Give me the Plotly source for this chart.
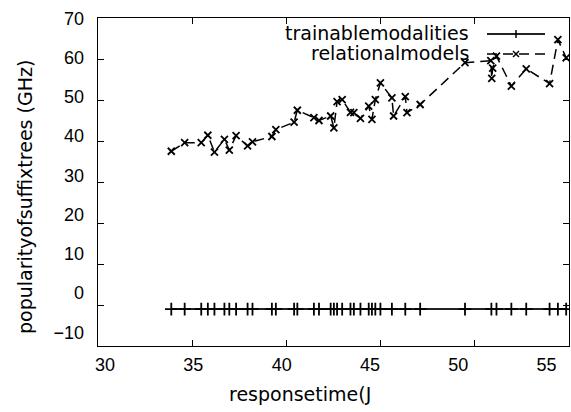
import plotly.graph_objects as go

# ---- data ----
train_x = [33.89, 34.60, 35.48, 35.83, 36.18, 36.71, 36.97, 37.33, 37.94, 38.20,
           39.23, 39.44, 40.41, 40.58, 41.46, 41.73, 42.35, 42.52, 42.69, 42.96,
           43.40, 43.58, 43.93, 44.37, 44.54, 44.72, 44.99, 45.60, 46.31, 47.10,
           49.48, 50.88, 51.15, 51.94, 52.73, 53.97, 54.41, 54.85]
train_y = [-1.0] * len(train_x)

rel_x = [33.89, 34.60, 35.48, 35.83, 36.18, 36.71, 36.97, 37.33, 37.94, 38.20,
         39.23, 39.44, 40.41, 40.58, 41.46, 41.73, 42.35, 42.52, 42.69, 42.96,
         43.40, 43.58, 43.93, 44.37, 44.54, 44.72, 44.99, 45.60, 45.69, 46.31,
         46.40, 47.10, 49.48, 50.85, 50.90, 50.95, 51.15, 51.94, 52.73, 53.97,
         54.41, 54.85]
rel_y = [37.5, 39.6, 39.6, 41.4, 37.3, 40.4, 37.8, 41.3, 38.8, 39.8,
         41.1, 42.8, 44.6, 47.5, 45.7, 45.0, 46.1, 43.2, 49.6, 50.1,
         47.0, 46.9, 45.5, 48.5, 45.3, 50.1, 54.2, 50.5, 46.1, 50.8,
         46.9, 48.9, 59.1, 59.6, 55.3, 57.8, 60.7, 53.4, 57.6, 54.0,
         64.7, 60.3]

series_names = ["trainablemodalities", "relationalmodels"]
x_title = "responsetime(J"
y_title = "popularityofsuffixtrees (GHz)"
x_ticks = [30, 35, 40, 45, 50, 55]
y_ticks = [-10, 0, 10, 20, 30, 40, 50, 60, 70]

# ---- layout geometry (pixels) ----
W, H = 571, 412
L, R, T, B = 98, 569, 18, 346
PW, PH = R - L, B - T


def px(x):
    return (x - L) / PW


def py(y):
    return (B - y) / PH


TEXT_FONT = dict(family="DejaVu Sans", size=19, color="black")
TICK_FONT = dict(family="Liberation Sans, Arial", size=18, color="black")

fig = go.Figure()
fig.add_trace(go.Scatter(
    x=train_x, y=train_y, mode="lines+markers", name=series_names[0],
    line=dict(color="#222222", width=2),
    marker=dict(symbol="cross-thin", size=9, line=dict(color="black", width=1.8)),
))
fig.add_trace(go.Scatter(
    x=rel_x, y=rel_y, mode="lines+markers", name=series_names[1],
    line=dict(color="black", width=1.5, dash="10px,6px"),
    marker=dict(symbol="x-thin", size=7, line=dict(color="black", width=1.8)),
))
# empty trace so the label-only overlay axes get drawn
fig.add_trace(go.Scatter(x=[], y=[], xaxis="x2", yaxis="y2", showlegend=False,
                         hoverinfo="skip", mode="markers"))

axis_common = dict(showgrid=False, zeroline=False, showline=True, linecolor="black",
                   linewidth=1, mirror="allticks", ticks="inside", ticklen=6,
                   tickcolor="black", showticklabels=False)

fig.update_layout(
    width=W, height=H,
    margin=dict(l=L, r=W - R, t=T, b=H - B),
    paper_bgcolor="white", plot_bgcolor="white",
    showlegend=False,
    xaxis=dict(range=[30, 55], tickvals=x_ticks, **axis_common),
    yaxis=dict(range=[-10, 70], tickvals=y_ticks, **axis_common),
    # label-only axes (tick labels sit slightly offset from the tick marks)
    xaxis2=dict(overlaying="x", anchor="y2", side="bottom", range=[29.6, 56.27],
                autorange=False, tickvals=x_ticks, showgrid=False, zeroline=False,
                showline=False, ticks="", tickfont=TICK_FONT, ticklabelstandoff=6),
    yaxis2=dict(overlaying="y", anchor="x2", side="left", range=[-13.5, 70.05],
                autorange=False, tickvals=y_ticks, showgrid=False, zeroline=False,
                showline=False, ticks="", tickfont=TICK_FONT, ticklabelstandoff=13),
)

annotations = [
    dict(text=x_title, x=px(300), y=py(394), xref="paper", yref="paper",
         showarrow=False, xanchor="center", yanchor="middle", font=TEXT_FONT),
    dict(text=y_title, x=px(25), y=py(197), xref="paper", yref="paper",
         showarrow=False, xanchor="center", yanchor="middle", textangle=-90,
         font=TEXT_FONT),
    dict(text=series_names[0], x=px(471), y=py(33), xref="paper", yref="paper",
         showarrow=False, xanchor="right", yanchor="middle", font=TEXT_FONT),
    dict(text=series_names[1], x=px(471), y=py(53), xref="paper", yref="paper",
         showarrow=False, xanchor="right", yanchor="middle", font=TEXT_FONT),
]
fig.update_layout(annotations=annotations)

# legend samples
shapes = []
ly1, ly2, lx0, lx1, lxm = 34, 54, 487, 545, 516
shapes.append(dict(type="line", xref="paper", yref="paper", x0=px(lx0), x1=px(lx1),
                   y0=py(ly1), y1=py(ly1), line=dict(color="#222222", width=2)))
shapes.append(dict(type="line", xref="paper", yref="paper", x0=px(lxm), x1=px(lxm),
                   y0=py(ly1 - 4), y1=py(ly1 + 4), line=dict(color="black", width=1.5)))
shapes.append(dict(type="line", xref="paper", yref="paper", x0=px(lx0), x1=px(lx1),
                   y0=py(ly2), y1=py(ly2), line=dict(color="black", width=1.5, dash="10px,6px")))
shapes.append(dict(type="line", xref="paper", yref="paper", x0=px(lxm - 3), x1=px(lxm + 3),
                   y0=py(ly2 - 3), y1=py(ly2 + 3), line=dict(color="black", width=1.5)))
shapes.append(dict(type="line", xref="paper", yref="paper", x0=px(lxm - 3), x1=px(lxm + 3),
                   y0=py(ly2 + 3), y1=py(ly2 - 3), line=dict(color="black", width=1.5)))
fig.update_layout(shapes=shapes)

fig.write_html("out.html", config={"displayModeBar": False},
               post_script="document.body.style.margin='0';")
